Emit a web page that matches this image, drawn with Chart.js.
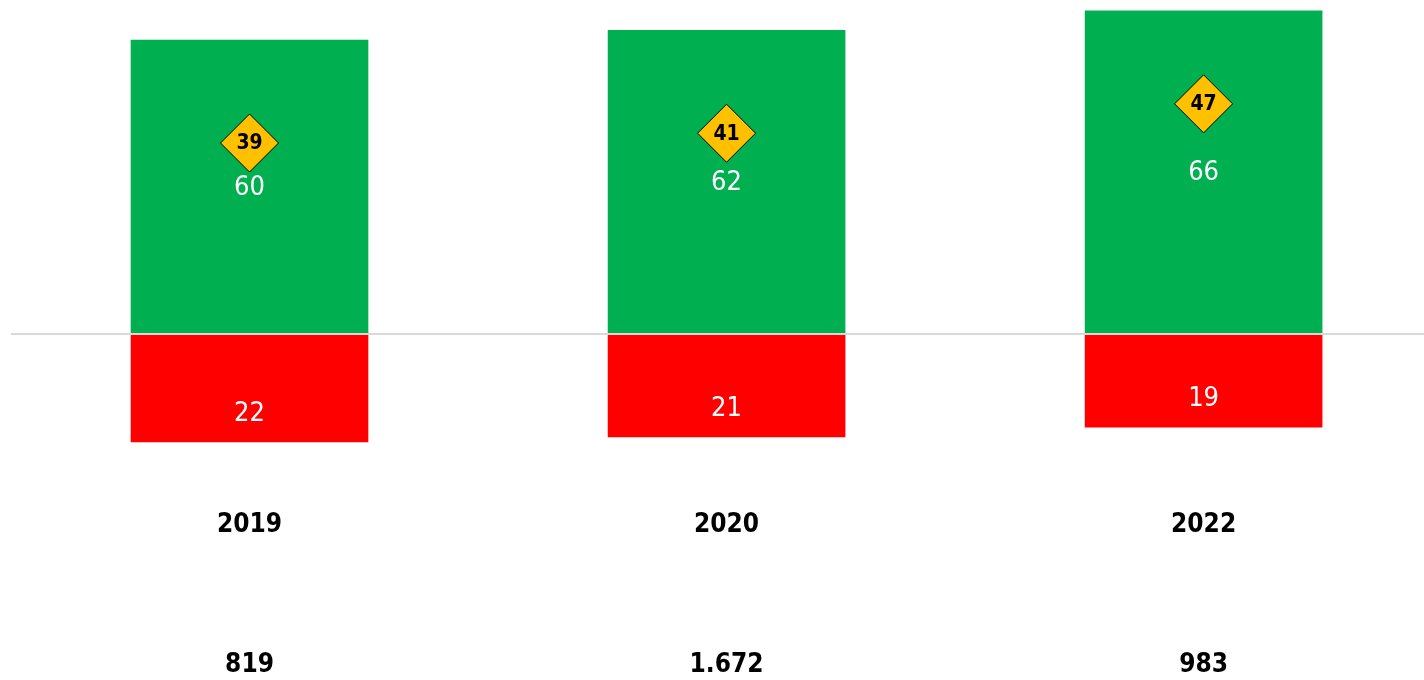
<!DOCTYPE html>
<html>
<head>
<meta charset="utf-8">
<script src="https://cdn.jsdelivr.net/npm/chart.js@4"></script>
<style>
  html, body { margin: 0; padding: 0; background: #ffffff; }
  #wrap { width: 1424px; height: 680px; position: relative; }
</style>
</head>
<body>
<div id="wrap"><canvas id="resultChart"></canvas></div>
<script>
// chart data
const years = ["2019", "2020", "2022"];
const sampleSizes = ["819", "1.672", "983"];
const positive = [60, 62, 66];
const negative = [-22, -21, -19];
const balance = [39, 41, 47];

const FONT = "'DejaVu Sans Condensed', 'DejaVu Sans', sans-serif";

// categories sit at x = 0, 1, 2 on a linear axis
const toPoints = (arr) => arr.map((v, i) => ({ x: i, y: v }));

// draws value labels and the year / sample size rows under the plot
const labelPlugin = {
  id: "labelPlugin",
  afterDatasetsDraw(chart) {
    const ctx = chart.ctx;
    const x = chart.scales.x;
    const y = chart.scales.y;
    ctx.save();
    ctx.textAlign = "center";
    ctx.textBaseline = "middle";

    years.forEach((year, i) => {
      const cx = x.getPixelForValue(i);

      // green bar label, centred
      ctx.fillStyle = "#ffffff";
      ctx.font = "27px " + FONT;
      ctx.fillText(String(positive[i]), cx, y.getPixelForValue(positive[i] / 2) + 1);

      // red bar label, near bottom of the bar
      ctx.fillText(String(-negative[i]), cx, y.getPixelForValue(negative[i]) - 28);

      // diamond label
      ctx.fillStyle = "#000000";
      ctx.font = "bold 21px " + FONT;
      ctx.fillText(String(balance[i]), cx, y.getPixelForValue(balance[i]) + 1);

      // year and sample size rows
      ctx.font = "bold 26px " + FONT;
      ctx.fillText(year, cx, 525);
      ctx.fillText(sampleSizes[i], cx, 665);
    });
    ctx.restore();
  },
};

const ctx = document.getElementById("resultChart").getContext("2d");
const resultChart = new Chart(ctx, {
  type: "bar",
  data: {
    datasets: [
      {
        type: "line",
        label: "Saldo",
        data: toPoints(balance),
        showLine: false,
        pointStyle: "rectRot",
        pointRadius: 29,
        pointHoverRadius: 29,
        pointBackgroundColor: "#ffc000",
        pointBorderColor: "#000000",
        pointBorderWidth: 1,
        order: 0,
      },
      {
        label: "Positiv",
        data: toPoints(positive),
        backgroundColor: "#00b050",
        stack: "s",
        order: 1,
      },
      {
        label: "Negativ",
        data: toPoints(negative),
        backgroundColor: "#ff0000",
        stack: "s",
        order: 1,
      },
    ],
  },
  options: {
    responsive: true,
    maintainAspectRatio: false,
    animation: false,
    events: [],
    layout: {
      autoPadding: false,
      padding: { left: 11, right: 0, top: 0, bottom: 199 },
    },
    datasets: {
      bar: {
        barThickness: 237,
      },
    },
    plugins: {
      legend: { display: false },
      tooltip: { enabled: false },
    },
    scales: {
      x: {
        type: "linear",
        display: false,
        stacked: true,
        offset: false,
        min: -0.5,
        max: 2.462,
      },
      y: {
        stacked: true,
        min: -30,
        max: 68.2,
        ticks: { display: false, stepSize: 10 },
        border: { display: false },
        grid: {
          drawTicks: false,
          z: 1,
          lineWidth: (c) => (c.tick && c.tick.value === 0 ? 2 : 0),
          color: (c) => (c.tick && c.tick.value === 0 ? "#d9d9d9" : "rgba(0,0,0,0)"),
        },
      },
    },
  },
  plugins: [labelPlugin],
});
</script>
</body>
</html>
